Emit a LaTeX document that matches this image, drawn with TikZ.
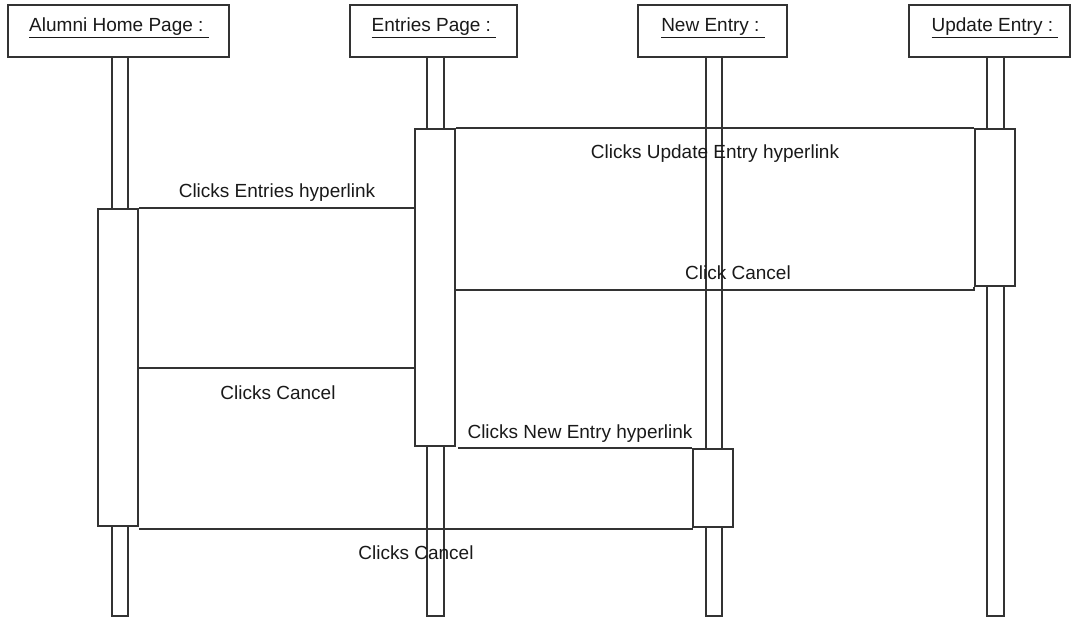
\documentclass[tikz,border=0pt]{standalone}
\usepackage{fontspec}
\setmainfont{Liberation Sans}
\begin{document}
\begin{tikzpicture}[x=1pt,y=-1pt,
  box/.style={draw=black!80, line width=2pt, fill=white, inner sep=0pt, rectangle},
  msg/.style={draw=black!80, line width=2pt},
  lbl/.style={inner sep=0pt, font=\fontsize{19}{21}\selectfont, text=black!90},
  head/.style={inner sep=0pt, font=\fontsize{19}{21}\selectfont, text=black!90}]
\useasboundingbox (0,0) rectangle (1071,619);
% heads
\node[box, minimum width=221pt, minimum height=52pt] (hA) at (118.5,31) {};
\node[box, minimum width=167pt, minimum height=52pt] (hE) at (433.5,31) {};
\node[box, minimum width=149pt, minimum height=52pt] (hN) at (712.5,31) {};
\node[box, minimum width=161pt, minimum height=52pt] (hU) at (989.5,31) {};
\node[head] (tA) at (119,28) {\underline{Alumni Home Page :\ }};
\node[head] (tE) at (434,28) {\underline{Entries Page :\ }};
\node[head] (tN) at (713,28) {\underline{New Entry :\ }};
\node[head] (tU) at (995,28) {\underline{Update Entry :\ }};
% lifelines
\node[box, minimum width=16pt, minimum height=559pt] (lA) at (120,336.5) {};
\node[box, minimum width=17pt, minimum height=559pt] (lE) at (435.5,336.5) {};
\node[box, minimum width=16pt, minimum height=559pt] (lN) at (714,336.5) {};
\node[box, minimum width=17pt, minimum height=559pt] (lU) at (995.5,336.5) {};
% activations
\node[box, minimum width=40pt, minimum height=317pt] (aA) at (118,367.5) {};
\node[box, minimum width=40pt, minimum height=317pt] (aE) at (435,287.5) {};
\node[box, minimum width=40pt, minimum height=157pt] (aU) at (995,207.5) {};
\node[box, minimum width=40pt, minimum height=78pt] (aN) at (713,488) {};
% messages
\draw[msg] (aE.north east) -- (aU.north west);
\draw[msg] (aU.south west) |- ([yshift=-3pt]aU.south west -| aE.east);
\draw[msg] (aA.north east) -- (aA.north east -| aE.west);
\draw[msg] ([yshift=-0.5pt]aA.east) -- ([yshift=-0.5pt]aA.east -| aE.west);
\draw[msg] (aN.north west) -- ([xshift=2pt]aN.north west -| aE.east);
\draw[msg] (aN.south west) |- ([yshift=-1pt]aN.south west -| aA.east);
% labels
\node[lbl] (m1) at (715,154) {Clicks Update Entry hyperlink};
\node[lbl] (m2) at (738,273) {Click Cancel};
\node[lbl] (m3) at (277,193) {Clicks Entries hyperlink};
\node[lbl] (m4) at (278,393) {Clicks Cancel};
\node[lbl] (m5) at (580,434) {Clicks New Entry hyperlink};
\node[lbl] (m6) at (416,553) {Clicks Cancel};
\end{tikzpicture}
\end{document}
